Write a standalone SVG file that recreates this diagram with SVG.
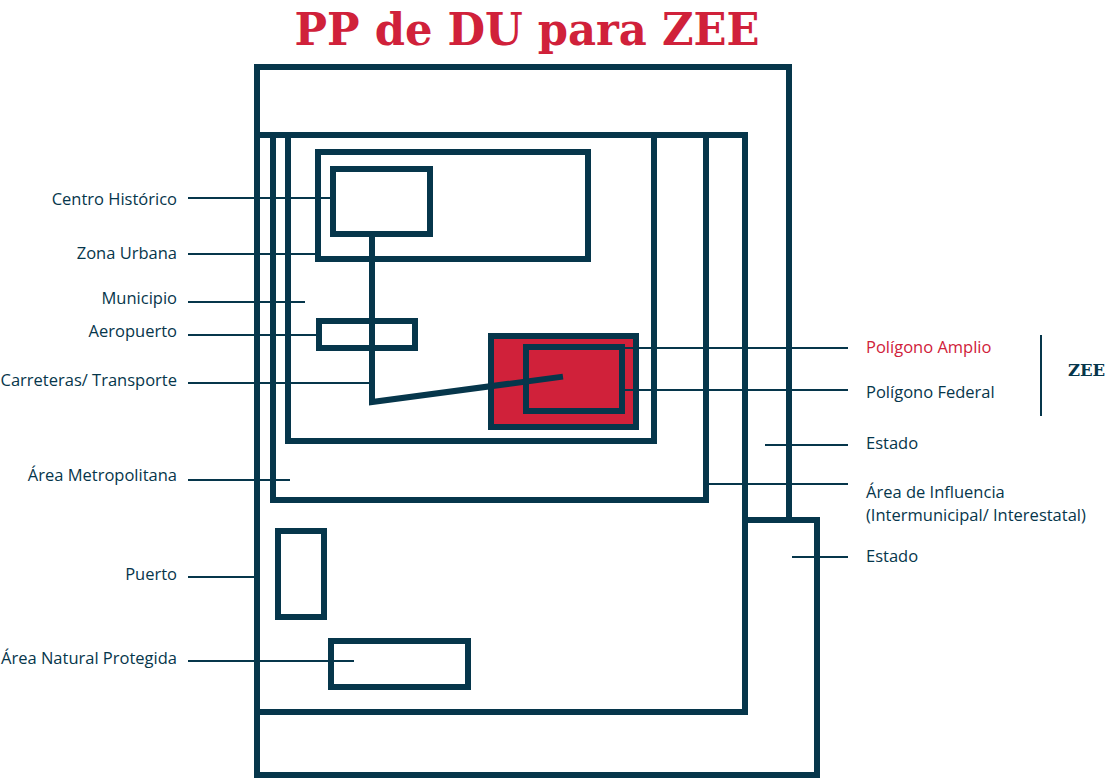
<svg xmlns="http://www.w3.org/2000/svg" width="1108" height="779" viewBox="0 0 1108 779">
<style>
.b{fill:none;stroke:#06364B;stroke-width:6;stroke-linecap:square}
.r{fill:#D0213A;stroke:#06364B;stroke-width:6}
.c{fill:none;stroke:#06364B;stroke-width:2}
.t{font-family:"Open Sans","Liberation Sans",sans-serif;font-size:16.5px;fill:#06364B}
.l{text-anchor:end}
</style>
<rect width="1108" height="779" fill="#fff"/>
<text x="527" y="45" text-anchor="middle" font-family="'DejaVu Serif','Liberation Serif',serif" font-weight="bold" font-size="45" fill="#D0213A" textLength="465" lengthAdjust="spacingAndGlyphs">PP de DU para ZEE</text>
<g id="estado1"><path class="b" d="M257,520 V67 H789 V520"/></g>
<g id="estado2"><path class="b" d="M745,520 H817 V775 H257 V520"/></g>
<g id="area-influencia"><rect class="b" x="257" y="135" width="488" height="577"/></g>
<g id="area-metropolitana"><rect class="b" x="273" y="135" width="433" height="365"/></g>
<g id="municipio"><rect class="b" x="288" y="135" width="366" height="306"/></g>
<g id="zona-urbana"><rect class="b" x="318" y="152" width="270" height="107"/></g>
<g id="centro-historico"><rect class="b" x="333" y="169" width="97" height="65"/></g>
<g id="aeropuerto"><rect class="b" x="319" y="321" width="96" height="27"/></g>
<g id="poligono-amplio"><rect class="r" x="491" y="336" width="145" height="91"/></g>
<g id="poligono-federal"><rect class="r" x="526" y="347" width="96" height="64"/></g>
<g id="carreteras"><path class="b" d="M372,234 V402 L560,377" stroke-linecap="butt"/></g>
<g id="puerto"><rect class="b" x="278" y="531" width="46" height="86"/></g>
<g id="anp"><rect class="b" x="331" y="641" width="137" height="46"/></g>
<g id="connectors">
<line class="c" x1="188" y1="198" x2="333" y2="198"/>
<line class="c" x1="188" y1="254" x2="316" y2="254"/>
<line class="c" x1="188" y1="302" x2="305" y2="302"/>
<line class="c" x1="188" y1="335" x2="316" y2="335"/>
<line class="c" x1="188" y1="383" x2="370" y2="383"/>
<line class="c" x1="188" y1="480" x2="290" y2="480"/>
<line class="c" x1="188" y1="577" x2="255" y2="577"/>
<line class="c" x1="188" y1="661" x2="354" y2="661"/>
<line class="c" x1="625" y1="348" x2="848" y2="348"/>
<line class="c" x1="625" y1="390" x2="848" y2="390"/>
<line class="c" x1="765" y1="445" x2="848" y2="445"/>
<line class="c" x1="706" y1="484" x2="848" y2="484"/>
<line class="c" x1="792" y1="557" x2="848" y2="557"/>
<line class="c" x1="1041" y1="335" x2="1041" y2="416"/>
</g>
<g id="labels">
<text class="t l" x="177" y="205">Centro Histórico</text>
<text class="t l" x="177" y="259">Zona Urbana</text>
<text class="t l" x="177" y="304">Municipio</text>
<text class="t l" x="177" y="337">Aeropuerto</text>
<text class="t l" x="177" y="386">Carreteras/ Transporte</text>
<text class="t l" x="177" y="481">Área Metropolitana</text>
<text class="t l" x="177" y="580">Puerto</text>
<text class="t l" x="177" y="664">Área Natural Protegida</text>
<text class="t" x="866" y="353" style="fill:#D0213A">Polígono Amplio</text>
<text class="t" x="866" y="398">Polígono Federal</text>
<text class="t" x="866" y="449">Estado</text>
<text class="t" x="866" y="498">Área de Influencia</text>
<text class="t" x="866" y="521">(Intermunicipal/ Interestatal)</text>
<text class="t" x="866" y="562">Estado</text>
<text x="1068" y="376" font-family="'DejaVu Serif','Liberation Serif',serif" font-weight="bold" font-size="16.5" fill="#06364B">ZEE</text>
</g>
</svg>
